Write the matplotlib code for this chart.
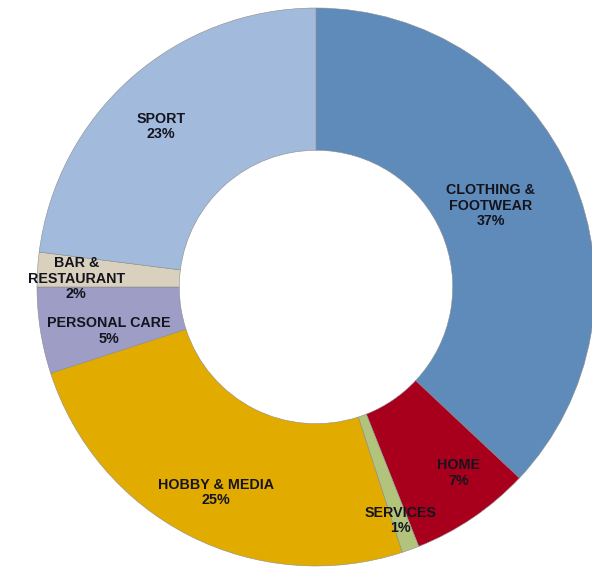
import numpy as np
import matplotlib
matplotlib.use("Agg")
import matplotlib.pyplot as plt

# spending split, clockwise from 12 o'clock
categories = ['CLOTHING &\nFOOTWEAR', 'HOME', 'SERVICES', 'HOBBY & MEDIA',
              'PERSONAL CARE', 'BAR &\nRESTAURANT', 'SPORT']
shares = [37, 7, 1, 25, 5, 2, 23]
colors = ['#5f8bba', '#a8001c', '#b2c47c', '#e2ab00',
          '#9d9dc6', '#d9d1bd', '#a2bbdc']

# where each label sits: fraction of outer radius, angle nudge in degrees
label_r = [0.69, 0.84, 0.89, 0.82, 0.76, 0.86, 0.80]
label_dang = [1.6, 3.2, 0.0, 1.0, 3.0, 1.6, 2.6]

plt.rcParams['font.family'] = ['Liberation Sans', 'DejaVu Sans']

fig = plt.figure(figsize=(5.92, 5.71), dpi=100)
ax = fig.add_axes([0, 0, 1, 1])

wedges, _ = ax.pie(shares, colors=colors, startangle=90, counterclock=False,
                   radius=1.0, wedgeprops=dict(width=0.51, edgecolor='#8c8c8c',
                                               linewidth=0.4))

for w, name, pct, r, da in zip(wedges, categories, shares, label_r, label_dang):
    mid = np.deg2rad((w.theta1 + w.theta2) / 2 + da)
    ax.text(r * np.cos(mid), r * np.sin(mid), '%s\n%d%%' % (name, pct),
            ha='center', va='center', fontsize=10.3, fontweight='bold',
            color='#14141f', linespacing=1.15)

# centre sits at (316, 287) px with an outer radius of 279 px
R = 279.0
ax.set_xlim(-316 / R, (592 - 316) / R)
ax.set_ylim(-(571 - 287) / R, 287 / R)
ax.set_aspect('equal')
ax.axis('off')

fig.savefig('out.png', dpi=100)
